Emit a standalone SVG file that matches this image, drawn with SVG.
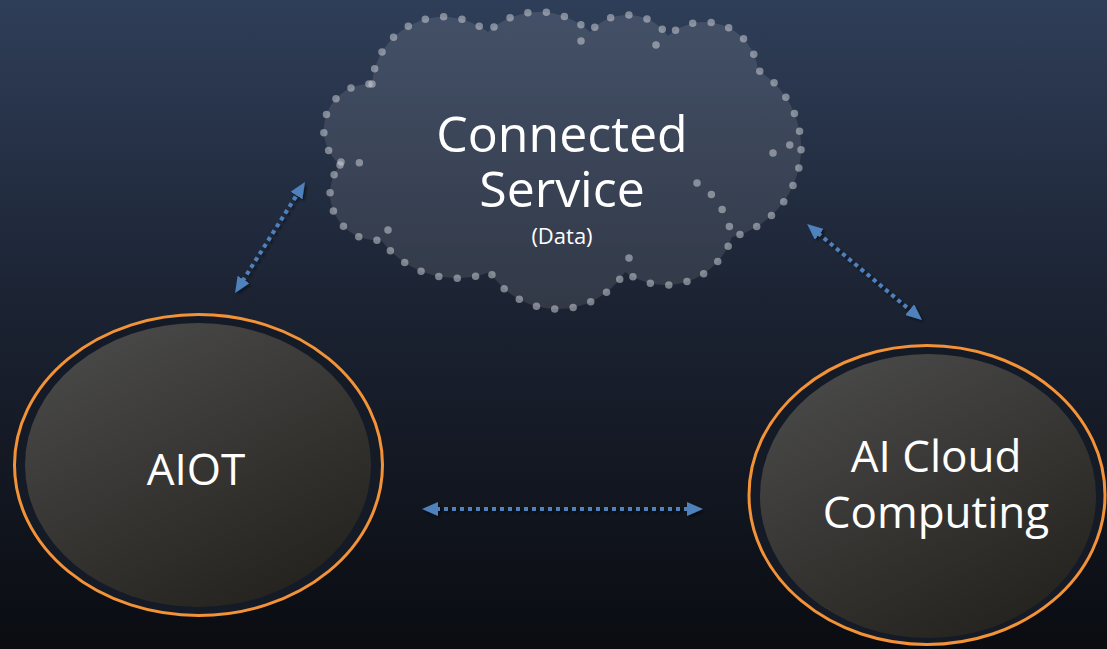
<svg xmlns="http://www.w3.org/2000/svg" width="1107" height="649" viewBox="0 0 1107 649">
  <defs>
    <linearGradient id="bg" x1="0" y1="0" x2="0" y2="1">
      <stop offset="0" stop-color="#2f3e58"/>
      <stop offset="0.5" stop-color="#1a2130"/>
      <stop offset="1" stop-color="#0a0c11"/>
    </linearGradient>
    <linearGradient id="ball" x1="0.2" y1="0" x2="0.8" y2="1">
      <stop offset="0" stop-color="#4a4a4a"/>
      <stop offset="1" stop-color="#23211c"/>
    </linearGradient>
    <marker id="ah" viewBox="0 0 16 14" refX="2" refY="7" markerWidth="16" markerHeight="14" markerUnits="userSpaceOnUse" orient="auto-start-reverse">
      <path d="M0,0 L16,7 L0,14 z" fill="#4f81bd"/>
    </marker>
    <filter id="sh" x="-20%" y="-20%" width="140%" height="140%">
      <feDropShadow dx="2" dy="2" stdDeviation="1.5" flood-color="#000" flood-opacity="0.5"/>
    </filter>
  </defs>
  <style>
    .lbl { font-family: "Open Sans", "Noto Sans", "Liberation Sans", sans-serif; fill: #ffffff; text-anchor: middle; }
    .ring { fill: #141a26; stroke: #f39237; stroke-width: 3; }
    .core { fill: url(#ball); }
    .dots { fill: none; stroke: #c8ccd4; stroke-opacity: 0.55; stroke-width: 7.5; stroke-linecap: round; stroke-dasharray: 0 18.5; }
    .conn { fill: none; stroke: #4f81bd; stroke-width: 4; stroke-dasharray: 4 4; marker-start: url(#ah); marker-end: url(#ah); }
  </style>
  <rect width="1107" height="649" fill="url(#bg)"/>

  <g id="cloud">
    <path d="M340,165 A46,46 0 0 1 372,84 A72,72 0 0 1 488,32 A75,75 0 0 1 590,32 A49.5,49.5 0 0 1 668,36 A54,54 0 0 1 758,70 A92,92 0 0 1 732,237 A70,70 0 0 1 625,272 A80,80 0 0 1 490,272 A94,94 0 0 1 381,240 A46.5,46.5 0 0 1 340,165 Z" fill="#ffffff" fill-opacity="0.1"/>
    <path class="dots" d="M340,165 A46,46 0 0 1 372,84 A72,72 0 0 1 488,32 A75,75 0 0 1 590,32 A49.5,49.5 0 0 1 668,36 A54,54 0 0 1 758,70 A92,92 0 0 1 732,237 A70,70 0 0 1 625,272 A80,80 0 0 1 490,272 A94,94 0 0 1 381,240 A46.5,46.5 0 0 1 340,165 Z"/>
    <path class="dots" d="M341,162 Q356,160 372,167"/>
    <path class="dots" d="M372,84 Q374,90 373,96"/>
    <path class="dots" d="M697,183 Q722,198 731,232"/>
    <path class="dots" d="M773,153 L790,145"/>
    <path class="dots" d="M629,258 L625,272"/>
    <path class="dots" d="M656,45 L668,36"/>
    <path class="dots" d="M581,41 L590,32"/>
    <path class="dots" d="M388,230 L381,240"/>
    <text class="lbl" x="562" y="152" font-size="50">Connected</text>
    <text class="lbl" x="562" y="207" font-size="50">Service</text>
    <text class="lbl" x="562" y="244" font-size="22">(Data)</text>
  </g>

  <g id="aiot">
    <ellipse class="ring" cx="198.5" cy="465" rx="184" ry="150.5"/>
    <ellipse class="core" cx="198" cy="465" rx="173" ry="142"/>
    <text class="lbl" x="196" y="485" font-size="44">AIOT</text>
  </g>

  <g id="ai-cloud">
    <ellipse class="ring" cx="927" cy="495" rx="178" ry="149.5"/>
    <ellipse class="core" cx="928" cy="496" rx="168" ry="142"/>
    <text class="lbl" x="936" y="472" font-size="44">AI Cloud</text>
    <text class="lbl" x="936" y="528" font-size="44">Computing</text>
  </g>

  <g id="connectors" filter="url(#sh)">
    <path class="conn" d="M436,509 L689,509"/>
    <path class="conn" d="M242.5,281.2 L297.5,193.8"/>
    <path class="conn" d="M817.8,233 L911.2,311"/>
  </g>
</svg>
